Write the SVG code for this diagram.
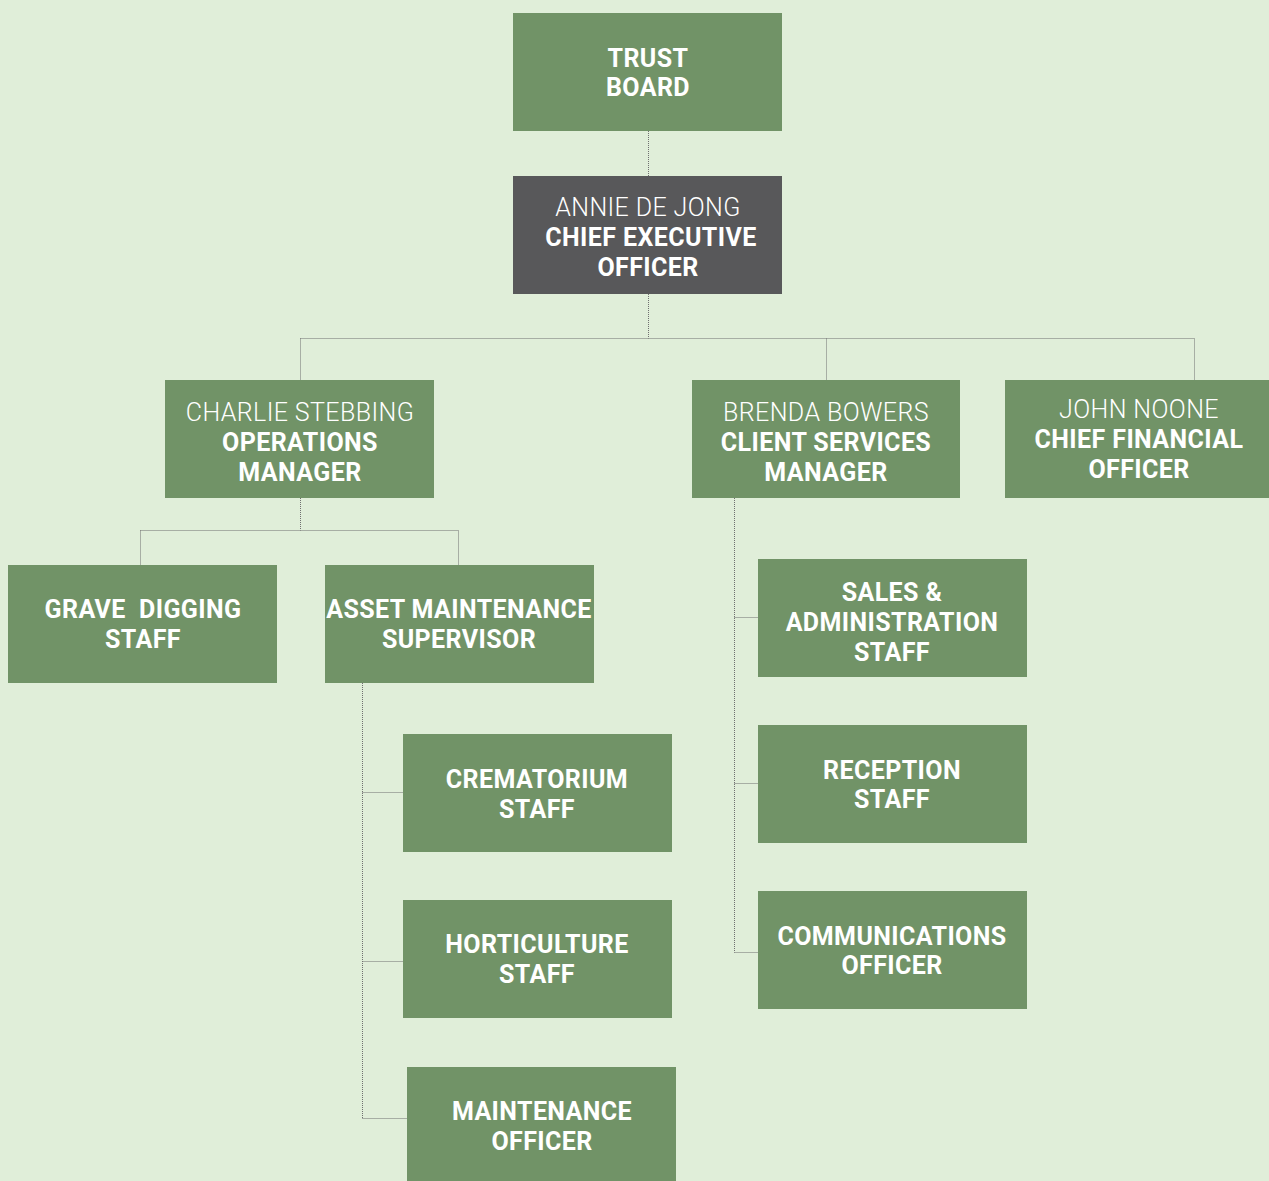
<svg xmlns="http://www.w3.org/2000/svg" width="1269" height="1181" viewBox="0 0 1269 1181">
<style>
.bg{fill:#e0eed9}
.n{fill:#719367}
.d{fill:#58585a}
text{font-family:Roboto,"DejaVu Sans",sans-serif;font-size:25px;fill:#fff;text-anchor:middle;letter-spacing:0.4px}
.b{font-weight:700}
.l{font-weight:300}
.c{fill:none;stroke:#6f6f6f;stroke-width:1;stroke-dasharray:1 1}
</style>
<rect class="bg" width="1269" height="1181"/>
<g id="connectors">
<path class="c" d="M648.5 131V176M648.5 294V338.5M300.5 338.5H1194.5M300.5 338.5V380M826.5 338.5V380M1194.5 338.5V380"/>
<path class="c" d="M300.5 498V530.5M140.5 530.5H458.5M140.5 530.5V565M458.5 530.5V565"/>
<path class="c" d="M362.5 683V1118.5M362.5 792.5H403M362.5 961.5H403M362.5 1118.5H407"/>
<path class="c" d="M734.5 498V952.5M734.5 617.5H758M734.5 783.5H758M734.5 952.5H758"/>
</g>
<g id="trust"><rect class="n" x="513" y="13" width="269" height="118"/><text class="b" x="648" y="67">TRUST</text><text class="b" x="648" y="96">BOARD</text></g>
<g id="ceo"><rect class="d" x="513" y="176" width="269" height="118"/><text class="l" x="648" y="216">ANNIE DE JONG</text><text class="b" x="651" y="246">CHIEF EXECUTIVE</text><text class="b" x="648" y="276">OFFICER</text></g>
<g id="charlie"><rect class="n" x="165" y="380" width="269" height="118"/><text class="l" x="300" y="421">CHARLIE STEBBING</text><text class="b" x="300" y="451">OPERATIONS</text><text class="b" x="300" y="481">MANAGER</text></g>
<g id="brenda"><rect class="n" x="692" y="380" width="268" height="118"/><text class="l" x="826" y="421">BRENDA BOWERS</text><text class="b" x="826" y="451">CLIENT SERVICES</text><text class="b" x="826" y="481">MANAGER</text></g>
<g id="john"><rect class="n" x="1005" y="380" width="264" height="118"/><text class="l" x="1139" y="418">JOHN NOONE</text><text class="b" x="1139" y="448">CHIEF FINANCIAL</text><text class="b" x="1139" y="478">OFFICER</text></g>
<g id="grave"><rect class="n" x="8" y="565" width="269" height="118"/><text class="b" x="143" y="618" xml:space="preserve">GRAVE  DIGGING</text><text class="b" x="143" y="648">STAFF</text></g>
<g id="asset"><rect class="n" x="325" y="565" width="269" height="118"/><text class="b" x="459" y="618">ASSET MAINTENANCE</text><text class="b" x="459" y="648">SUPERVISOR</text></g>
<g id="crem"><rect class="n" x="403" y="734" width="269" height="118"/><text class="b" x="537" y="788">CREMATORIUM</text><text class="b" x="537" y="818">STAFF</text></g>
<g id="hort"><rect class="n" x="403" y="900" width="269" height="118"/><text class="b" x="537" y="953">HORTICULTURE</text><text class="b" x="537" y="983">STAFF</text></g>
<g id="maint"><rect class="n" x="407" y="1067" width="269" height="118"/><text class="b" x="542" y="1120">MAINTENANCE</text><text class="b" x="542" y="1150">OFFICER</text></g>
<g id="sales"><rect class="n" x="758" y="559" width="269" height="118"/><text class="b" x="892" y="601">SALES &amp;</text><text class="b" x="892" y="631">ADMINISTRATION</text><text class="b" x="892" y="661">STAFF</text></g>
<g id="reception"><rect class="n" x="758" y="725" width="269" height="118"/><text class="b" x="892" y="779">RECEPTION</text><text class="b" x="892" y="808">STAFF</text></g>
<g id="comms"><rect class="n" x="758" y="891" width="269" height="118"/><text class="b" x="892" y="945">COMMUNICATIONS</text><text class="b" x="892" y="974">OFFICER</text></g>
</svg>
